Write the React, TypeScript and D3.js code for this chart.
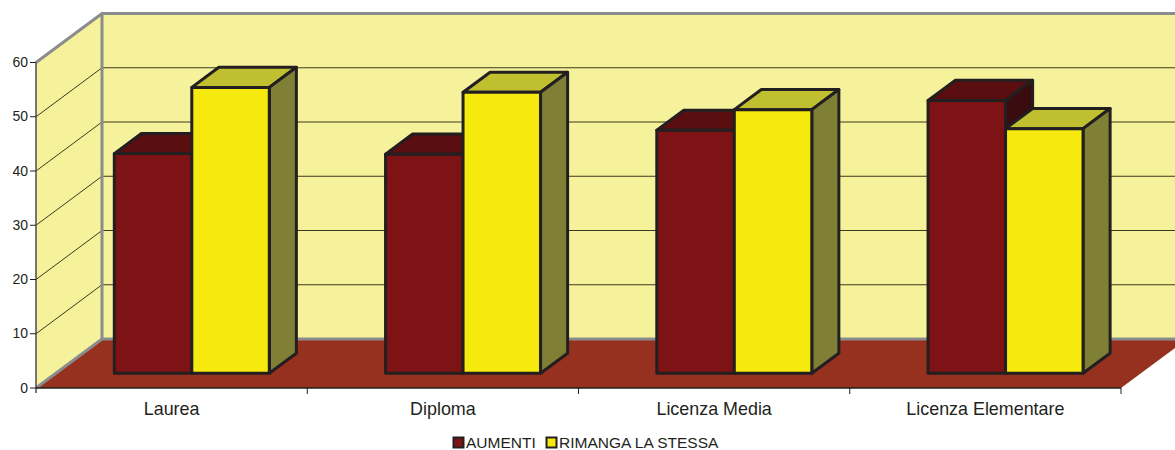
import React from "react";
import * as d3 from "d3";

const categories = ["Laurea", "Diploma", "Licenza Media", "Licenza Elementare"];
const seriesNames = ["AUMENTI", "RIMANGA LA STESSA"];
const aumenti = [40.5, 40.4, 44.8, 50.3];
const rimanga = [52.7, 51.8, 48.6, 45.1];
const yTicks = [0, 10, 20, 30, 40, 50, 60];

const FONT = "'Liberation Sans', Arial, sans-serif";
const INK = "#231f20";
const GREY = "#8a8c8e";
const faces = [
  { front: "#7d1315", top: "#5a0e10", side: "#3a0c0f" },
  { front: "#f5e90e", top: "#bfbf30", side: "#7f8035" },
];

const y = d3.scaleLinear().domain([0, 60]).range([388, 62.5]);
const x = d3.scaleBand<string>().domain(categories).range([36, 1121]);
const inner = d3.scaleBand<string>().domain(seriesNames).range([58.5, 213.5]);
// depth scale: 0 = front plane, 1 = back wall
const depthX = d3.scaleLinear().domain([0, 1]).range([0, 66]);
const depthY = d3.scaleLinear().domain([0, 1]).range([0, -49]);
const pt = (px: number, py: number, z: number) => `${px + depthX(z)},${py + depthY(z)}`;
const Z0 = 0.3;
const Z1 = 0.71;
const backRight = x.range()[1];

export default function App() {
  const series = [aumenti, rimanga];
  const y0 = y(0);
  const yTop = y(60);
  const xL = x.range()[0];
  return (
    <svg width={1175} height={450} style={{ position: "absolute", left: 0, top: 0, background: "#fff" }} fontFamily={FONT}>
      <polygon points={[pt(xL, y0, 1), pt(backRight, y0, 1), pt(backRight, yTop, 1), pt(xL, yTop, 1)].join(" ")} fill="#f6f29b" />
      <polygon points={[pt(xL, y0, 0), pt(xL, y0, 1), pt(xL, yTop, 1), pt(xL, yTop, 0)].join(" ")} fill="#f6f29b" />
      {yTicks.filter(t => t > 0 && t < 60).map(t => (
        <polyline key={t} fill="none" stroke="#3c3a1e" strokeWidth={1} points={[pt(xL, y(t), 0), pt(xL, y(t), 1), pt(backRight, y(t), 1)].join(" ")} />
      ))}
      <polygon points={[pt(xL, y0, 0), pt(xL, y0, 1), pt(backRight, y0, 1), pt(backRight, y0, 0)].join(" ")} fill="#96311f" />
      <polyline fill="none" stroke={GREY} strokeWidth={3} points={[pt(xL, yTop, 0), pt(xL, yTop, 1), pt(backRight, yTop, 1)].join(" ")} />
      <polyline fill="none" stroke={GREY} strokeWidth={3} points={[pt(xL, y0, 0), pt(xL, y0, 1), pt(backRight, y0, 1)].join(" ")} />
      <line x1={102} x2={102} y1={y0 - 49} y2={yTop - 49} stroke={GREY} strokeWidth={3} />

      <line x1={xL} x2={xL} y1={yTop} y2={y0 + 5} stroke="#4d4d4f" strokeWidth={1.5} />
      <line x1={xL} x2={backRight} y1={y0} y2={y0} stroke={INK} strokeWidth={1.5} />
      {yTicks.map(t => (
        <g key={t}>
          <line x1={xL - 6} x2={xL} y1={y(t)} y2={y(t)} stroke={INK} strokeWidth={1} />
          <text x={xL - 8} y={y(t) + 4.5} textAnchor="end" fontSize={14} fill={INK}>{t}</text>
        </g>
      ))}
      {categories.map(c => (
        <line key={c} x1={(x(c) as number) + x.bandwidth()} x2={(x(c) as number) + x.bandwidth()} y1={y0} y2={y0 + 6} stroke={INK} strokeWidth={1} />
      ))}
      {categories.map(c => (
        <text key={c} x={(x(c) as number) + x.bandwidth() / 2} y={415} textAnchor="middle" fontSize={17.9} fill={INK}>{c}</text>
      ))}

      {categories.map((c, ci) => (
        <g key={c}>
          {seriesNames.map((s, si) => {
            const a = (x(c) as number) + (inner(s) as number);
            const b = a + inner.bandwidth();
            const t = y(series[si][ci]);
            const f = faces[si];
            return (
              <g key={s} stroke={INK} strokeWidth={3} strokeLinejoin="round">
                <polygon fill={f.top} points={[pt(a, t, Z0), pt(a, t, Z1), pt(b, t, Z1), pt(b, t, Z0)].join(" ")} />
                <polygon fill={f.side} points={[pt(b, y0, Z0), pt(b, y0, Z1), pt(b, t, Z1), pt(b, t, Z0)].join(" ")} />
                <polygon fill={f.front} points={[pt(a, y0, Z0), pt(b, y0, Z0), pt(b, t, Z0), pt(a, t, Z0)].join(" ")} />
              </g>
            );
          })}
        </g>
      ))}

      <g fontSize={15.5} fill={INK}>
        <rect x={453.5} y={437.5} width={10} height={10} fill={faces[0].front} stroke={INK} strokeWidth={2} />
        <text x={466} y={448}>{seriesNames[0]}</text>
        <rect x={546.5} y={437.5} width={10} height={10} fill={faces[1].front} stroke={INK} strokeWidth={2} />
        <text x={559} y={448}>{seriesNames[1]}</text>
      </g>
    </svg>
  );
}
